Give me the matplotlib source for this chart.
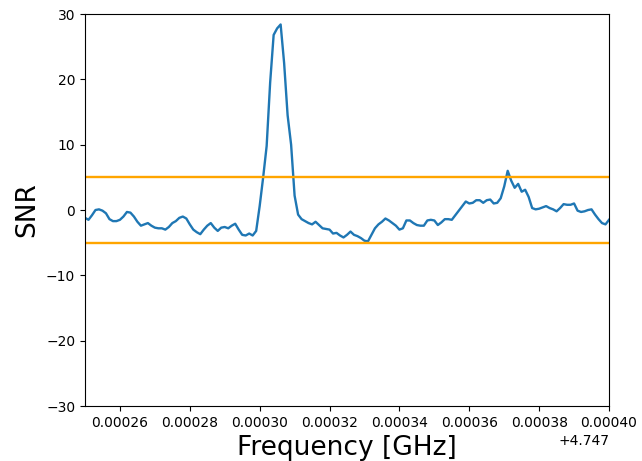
import numpy as np
import matplotlib
matplotlib.use('Agg')
import matplotlib.pyplot as plt

# frequency grid: 1 kHz steps starting at 4.74725 GHz
f_start = 4.74725
f_step = 1e-6
snr = [
    -1.2, -1.5, -0.8, 0.0, 0.1, -0.1, -0.5, -1.4, -1.7, -1.7,
    -1.5, -1.0, -0.3, -0.4, -1.0, -1.8, -2.4, -2.2, -2.0, -2.4,
    -2.7, -2.8, -2.8, -3.0, -2.6, -2.0, -1.7, -1.2, -1.0, -1.3,
    -2.2, -3.0, -3.4, -3.7, -3.0, -2.4, -2.0, -2.7, -3.2, -2.7,
    -2.6, -2.8, -2.4, -2.1, -3.0, -3.8, -3.9, -3.6, -3.9, -3.2,
    0.6, 5.0, 9.8, 19.5, 26.8, 27.8, 28.4, 22.5, 14.5, 10.0,
    2.2, -0.7, -1.4, -1.7, -2.0, -2.2, -1.8, -2.3, -2.8, -2.9,
    -3.0, -3.6, -3.5, -3.9, -4.2, -3.8, -3.3, -3.8, -4.0, -4.3,
    -4.7, -4.8, -3.8, -2.8, -2.2, -1.8, -1.3, -1.6, -2.0, -2.4,
    -3.0, -2.8, -1.6, -1.6, -2.0, -2.3, -2.4, -2.4, -1.6, -1.5,
    -1.6, -2.3, -1.9, -1.4, -1.4, -1.5, -0.8, -0.1, 0.6, 1.3,
    1.0, 1.1, 1.5, 1.5, 1.1, 1.5, 1.6, 1.0, 1.1, 1.8,
    3.6, 6.0, 4.5, 3.4, 4.0, 2.8, 3.1, 2.0, 0.3, 0.1,
    0.2, 0.4, 0.6, 0.3, 0.1, -0.2, 0.3, 0.9, 0.8, 0.8,
    1.0, -0.1, -0.3, -0.2, 0.0, 0.1, -0.7, -1.4, -2.0, -2.2,
    -1.5,
]
freq = f_start + f_step*np.arange(len(snr))
threshold = 5

fig, ax = plt.subplots(figsize=(6.42, 4.61), dpi=100)
ax.plot(freq, snr, color='C0', lw=1.7)
ax.axhline(threshold, color='orange', lw=1.7)
ax.axhline(-threshold, color='orange', lw=1.7)
ax.set_xlim(4.74725, 4.7474)
ax.set_ylim(-30, 30)
ax.set_xlabel('Frequency [GHz]', fontsize=19)
ax.set_ylabel('SNR', fontsize=19)
fig.subplots_adjust(left=0.1324, right=0.9486, top=0.9696, bottom=0.1193)
plt.savefig('out.png')
